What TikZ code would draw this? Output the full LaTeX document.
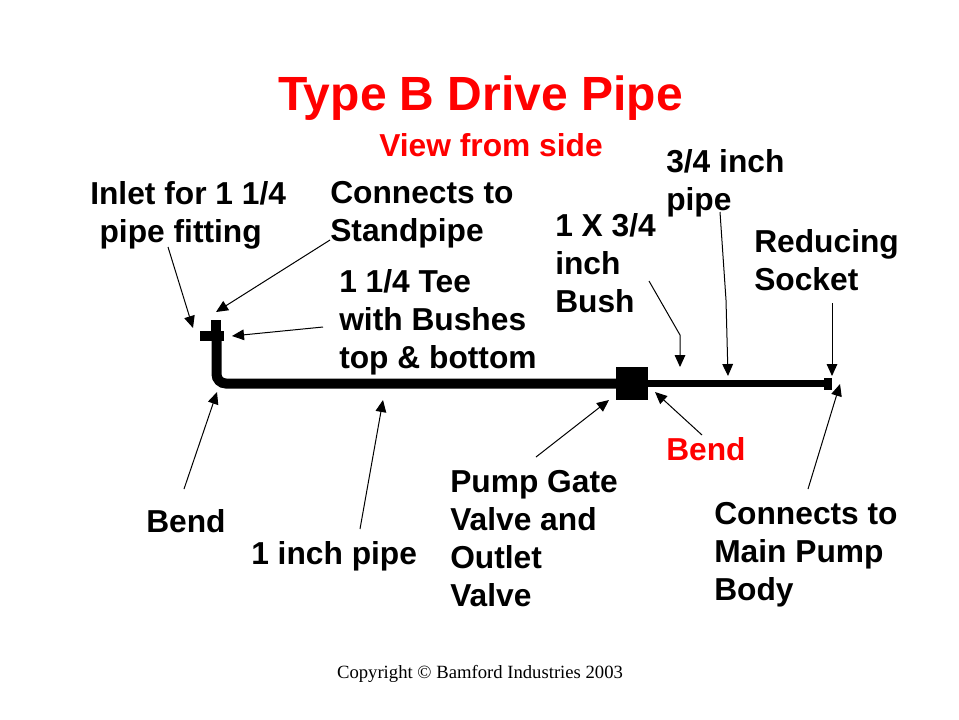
\documentclass[tikz,border=0pt]{standalone}
\usepackage{fontspec}
\setmainfont{Liberation Sans}
\newfontfamily\copyfont{Liberation Serif}
\usetikzlibrary{arrows.meta}
\definecolor{titlered}{RGB}{255,0,0}
\begin{document}
\begin{tikzpicture}[x=0.75pt, y=-0.75pt, >={Triangle[length=9pt,width=8pt]},
  lbl/.style={inner sep=0pt, anchor=north west, align=left, font=\fontsize{23.8}{28.5}\selectfont\bfseries, text=black},
  redlbl/.style={lbl, text=titlered},
  ptr/.style={draw, ->, line width=0.75pt},
  solid part/.style={fill=black, draw=none, inner sep=0pt, outer sep=0pt}]
\useasboundingbox (0,0) rectangle (959,719);
% pipe run
\draw[line width=7.5pt, rounded corners=7pt] (216.5,341) -- (216.5,383.5) -- (620,383.5);
\draw[line width=5.2pt] (640,383.5) -- (828,383.5);
\node[solid part, minimum width=24pt, minimum height=24.5pt] (valve) at (632,383.5) {};
\node[solid part, minimum width=6pt, minimum height=9pt] (socket) at (828,384) {};
\node[solid part, minimum width=7.5pt, minimum height=15.75pt] (teeup) at (216,330.5) {};
\node[solid part, minimum width=18pt, minimum height=7.5pt] (teeside) at (212,336) {};
% text
\node[anchor=center, inner sep=0pt, text=titlered, font=\fontsize{36}{40}\selectfont\bfseries] (title) at (480.5,98) {Type B Drive Pipe};
\node[anchor=center, inner sep=0pt, text=titlered, font=\fontsize{23.8}{28}\selectfont\bfseries] (view) at (491,145) {View from side};
\node[lbl] (inlet) at (90,181) {Inlet for 1 1/4\\\hspace*{7pt}pipe fitting};
\node[lbl] (standpipe) at (330,181) {Connects to\\Standpipe};
\node[lbl] (tee) at (339,269) {1 1/4 Tee\\with Bushes\\top \& bottom};
\node[lbl] (bush) at (555,213) {1 X 3/4\\inch\\Bush};
\node[lbl] (small) at (666,149) {3/4 inch\\pipe};
\node[lbl] (reducing) at (754,229) {Reducing\\Socket};
\node[lbl] (bendl) at (146,509) {Bend};
\node[lbl] (inch) at (251,541) {1 inch pipe};
\node[lbl] (gate) at (450,470) {Pump Gate\\Valve and\\Outlet\\Valve};
\node[redlbl] (bendr) at (666,437) {Bend};
\node[lbl] (body) at (714,502) {Connects to\\Main Pump\\Body};
\node[anchor=center, inner sep=0pt, font=\copyfont\fontsize{14}{16}\selectfont] (copy) at (480,674) {Copyright © Bamford Industries 2003};
% pointers
\foreach \name/\ax/\ay/\bx/\by in {inlet/168/247/193/328, standpipe/330/240/216/312, tee/323/327/232/336,
  bendl/184/489/217/392, inch/360/529/383/400, gate/536/457/609/400, bendr/702/435/655/392, body/808/489/840/384, reducing/832/303/832/376}{
  \coordinate (\name a) at (\ax,\ay);
  \coordinate (\name b) at (\bx,\by);
  \draw[ptr] (\name a) -- (\name b);
}
\coordinate (busha) at (649,281);
\coordinate (bushm) at (680,335);
\coordinate (bushb) at (680,367);
\draw[ptr] (busha) -- (bushm) -- (bushb);
\coordinate (smalla) at (720,212);
\coordinate (smallm) at (726,300);
\coordinate (smallb) at (728,376);
\draw[ptr] (smalla) -- (smallm) -- (smallb);
\end{tikzpicture}
\end{document}
